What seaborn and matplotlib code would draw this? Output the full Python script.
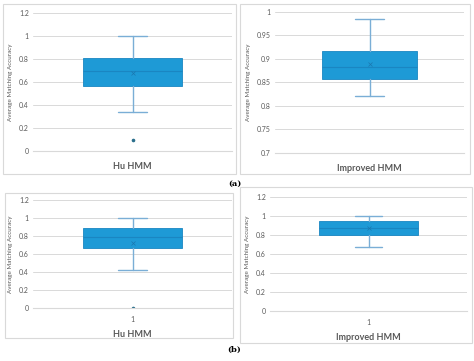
import matplotlib
matplotlib.use("Agg")
import matplotlib.pyplot as plt
from matplotlib.patches import Rectangle
import seaborn as sns

sns.set_style("white")
plt.rcParams["font.family"] = ["Lato", "DejaVu Sans"]

# summary values (whisker low, q1, median, q3, whisker high, mean, outliers)
hu_a = [0.34, 0.565, 0.70, 0.81, 1.0]
hu_a_mean = 0.68
hu_a_fliers = [0.10]

imp_a = [0.822, 0.857, 0.882, 0.917, 0.985]
imp_a_mean = 0.89
imp_a_fliers = []

hu_b = [0.42, 0.67, 0.785, 0.885, 1.0]
hu_b_mean = 0.72
hu_b_fliers = [0.0]

imp_b = [0.67, 0.80, 0.87, 0.945, 1.0]
imp_b_mean = 0.87
imp_b_fliers = []

names = ["Hu HMM", "Improved HMM", "Hu HMM", "Improved HMM"]
ylims = [(0, 1.2), (0.7, 1.0), (0, 1.2), (0, 1.2)]
yticks = [[0, 0.2, 0.4, 0.6, 0.8, 1, 1.2],
          [0.7, 0.75, 0.8, 0.85, 0.9, 0.95, 1],
          [0, 0.2, 0.4, 0.6, 0.8, 1, 1.2],
          [0, 0.2, 0.4, 0.6, 0.8, 1, 1.2]]
show_xtick = [False, False, True, True]

FILL = "#1e9ad6"
EDGE = "#1a86c2"
WHISK = "#7aaed6"
GRID = "#d9d9d9"
TXT = "#595959"

W, H = 474, 361
fig = plt.figure(figsize=(W / 100, H / 100), dpi=100)


def fx(px):
    return px / W


def fy(py):
    return 1 - py / H


# chart area borders (pixel boxes: x0, y0, x1, y1)
borders = [(3, 4, 236, 174), (240, 4, 470, 174), (5, 193, 233, 338), (240, 187, 472, 343)]
for x0, y0, x1, y1 in borders:
    fig.patches.append(Rectangle((fx(x0), fy(y1)), fx(x1 - x0), (y1 - y0) / H,
                                 transform=fig.transFigure, fill=False,
                                 edgecolor=GRID, linewidth=0.8))

# plot areas (pixel boxes)
areas = [(33, 13, 232, 151), (275, 12, 464, 153), (33, 200, 232, 308), (270, 197, 467, 311)]
caps = [0.146, 0.153, 0.146, 0.14]
stats_in = [(hu_a, hu_a_mean, hu_a_fliers), (imp_a, imp_a_mean, imp_a_fliers),
            (hu_b, hu_b_mean, hu_b_fliers), (imp_b, imp_b_mean, imp_b_fliers)]

for i, (x0, y0, x1, y1) in enumerate(areas):
    ax = fig.add_axes([fx(x0), fy(y1), fx(x1 - x0), (y1 - y0) / H])
    vals, mean, fl = stats_in[i]
    st = [dict(whislo=vals[0], q1=vals[1], med=vals[2], q3=vals[3], whishi=vals[4],
               mean=mean, fliers=fl, label="1")]
    ax.bxp(st, positions=[1], widths=0.5, patch_artist=True, showmeans=True,
           capwidths=caps[i],
           boxprops=dict(facecolor=FILL, edgecolor=EDGE, linewidth=0.6),
           medianprops=dict(color=EDGE, linewidth=0.8),
           whiskerprops=dict(color=WHISK, linewidth=1.0),
           capprops=dict(color=WHISK, linewidth=1.0),
           meanprops=dict(marker="x", markeredgecolor="#1a78b0", markersize=2.5,
                          markeredgewidth=0.5),
           flierprops=dict(marker="o", markerfacecolor="#2b6f8c",
                           markeredgecolor="#2b6f8c", markersize=1.6))
    ax.set_xlim(0.5, 1.5)
    ax.set_ylim(*ylims[i])
    ax.set_yticks(yticks[i])
    ax.set_yticklabels([f"{t:g}" for t in yticks[i]])
    ax.yaxis.grid(True, color=GRID, linewidth=0.7)
    ax.set_axisbelow(True)
    for s in ["left", "right", "top"]:
        ax.spines[s].set_visible(False)
    ax.spines["bottom"].set_color(GRID)
    ax.spines["bottom"].set_linewidth(0.8)
    ax.tick_params(axis="y", length=0, labelsize=5, colors=TXT, pad=3)
    ax.tick_params(axis="x", length=0, labelsize=5, colors=TXT, pad=6)
    if show_xtick[i]:
        ax.set_xticks([1])
        ax.set_xticklabels(["1"])
        ax.set_xlabel(names[i], fontsize=6.5, color=TXT, fontweight="bold", labelpad=5)
    else:
        ax.set_xticks([])
        ax.set_xlabel(names[i], fontsize=6.5, color=TXT, fontweight="bold", labelpad=8)
    ax.set_ylabel("Average Matching Accuracy", fontsize=4.5, color=TXT, labelpad=4)

fig.text(fx(235), fy(184), "(a)", fontsize=6, ha="center", va="center", color="black",
         family="DejaVu Serif", fontweight="bold")
fig.text(fx(234), fy(350), "(b)", fontsize=6, ha="center", va="center", color="black",
         family="DejaVu Serif", fontweight="bold")

fig.savefig("out.png", dpi=100)
